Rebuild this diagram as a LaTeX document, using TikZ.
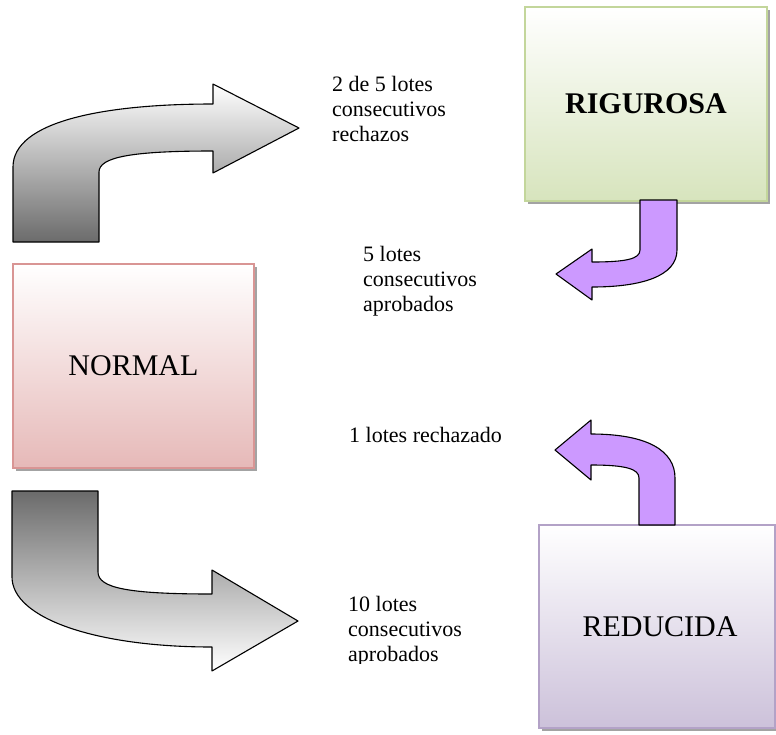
\documentclass[tikz,border=0pt]{standalone}
\usepackage{fontspec}
\setmainfont{Liberation Serif}
\usetikzlibrary{shadows}
\definecolor{normline}{HTML}{D99594}
\definecolor{normfill}{HTML}{E6B9B8}
\definecolor{rigline}{HTML}{C3D69B}
\definecolor{rigfill}{HTML}{D7E4BD}
\definecolor{redline}{HTML}{B3A2C7}
\definecolor{redfill}{HTML}{CCC1DA}
\definecolor{lilac}{HTML}{CC99FF}
\definecolor{darkgrey}{HTML}{6B6B6B}
\begin{document}
\begin{tikzpicture}[x=1pt,y=-1pt,
  stagebox/.style={draw=#1line, line width=1.8pt, top color=white,
    middle color=#1fill!45!white, bottom color=#1fill,
    drop shadow={shadow xshift=3pt, shadow yshift=-3pt, fill=black!45, opacity=0.8},
    font=\fontsize{30}{34}\selectfont, inner sep=0pt},
  bigarrow/.style={draw=black, line width=1.1pt, line join=round},
  turnarrow/.style={draw=black, line width=1.1pt, line join=round, fill=lilac},
  % anchored on the baseline of the last line
  note/.style={font=\fontsize{22}{25}\selectfont, align=left, inner sep=0pt, anchor=base west}]

\useasboundingbox (0,0) rectangle (776,734);

% mode boxes
\node[stagebox=rig, minimum width=242pt, minimum height=194pt] (rig) at (646,104) {\bfseries RIGUROSA};
\node[stagebox=norm, minimum width=241pt, minimum height=204pt] (norm) at (133.5,366) {NORMAL};
\node[stagebox=red, minimum width=236pt, minimum height=203pt] (red) at (657,626.5) {\hspace*{6pt}REDUCIDA};

% normal -> rigurosa
\path[bigarrow, top color=white, bottom color=darkgrey]
  (13,242) -- (13,167) .. controls (13,121) and (105,104) .. (213,104)
  -- (213,84) -- (299,128) -- (213,173) -- (213,151)
  .. controls (132,151) and (99,157) .. (99,172) -- (99,242) -- cycle;

% rigurosa -> normal
\path[turnarrow]
  (640,200) -- (677,200) -- (677,250) .. controls (677,276) and (642,287) .. (592,287)
  -- (592,300) -- (556,274) -- (592,249) -- (592,262)
  .. controls (626,262) and (640,259) .. (640,250) -- cycle;

% reducida -> normal
\path[turnarrow]
  (639,525) -- (675,525) -- (675,478) .. controls (675,451) and (648,434) .. (591,434)
  -- (591,420) -- (555,450) -- (591,480) -- (591,465)
  .. controls (626,465) and (639,469) .. (639,478) -- cycle;

% normal -> reducida
\path[bigarrow, top color=darkgrey, bottom color=white]
  (12,491) -- (98,491) -- (98,572) .. controls (98,588) and (128,594) .. (212,594)
  -- (212,570) -- (298,621) -- (212,671) -- (212,647)
  .. controls (95,647) and (12,618) .. (12,577) -- cycle;

% transition conditions
\node[note] (t1) at (332,141.5) {2 de 5 lotes\\consecutivos\\rechazos};
\node[note] (t2) at (363,311.5) {5 lotes\\consecutivos\\aprobados};
\node[note] (t3) at (349,442) {1 lotes rechazado};
\begin{scope}
  \clip (330,560) rectangle (520,663);
  \node[note] (t4) at (348,661) {10 lotes\\consecutivos\\aprobados};
\end{scope}
\end{tikzpicture}
\end{document}
